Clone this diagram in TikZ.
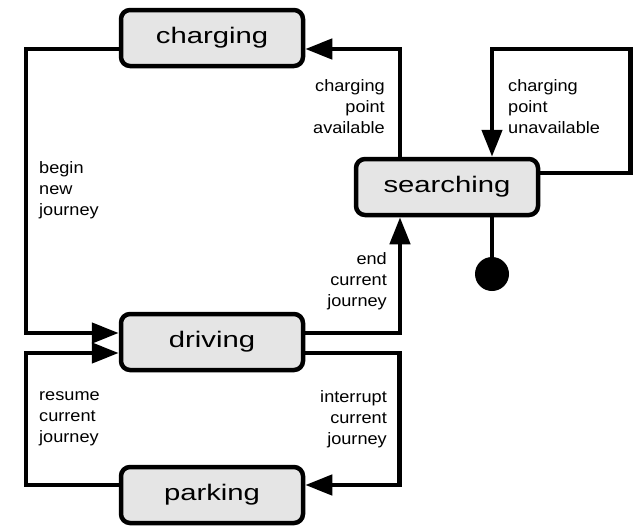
\documentclass[tikz,border=0pt]{standalone}
\usepackage{fontspec}
\setmainfont{Liberation Sans}
\newfontfamily\statefont[FakeStretch=1.3]{Liberation Sans}
\newfontfamily\eventfont[FakeStretch=1.1]{Liberation Sans}
\usetikzlibrary{arrows.meta, positioning}

\begin{document}
\begin{tikzpicture}[
  x=1pt, y=-1pt,
  state/.style = {
    draw, line width=4.5pt, rounded corners=9pt, fill=gray!20,
    minimum width=182pt, minimum height=56pt, inner sep=0pt,
    font=\statefont\fontsize{22.5}{26}\selectfont
  },
  trans/.style = {line width=4.5pt, -{Triangle[length=27pt,width=20pt]}},
  event/.style = {font=\eventfont\fontsize{16.5}{21}\selectfont, inner sep=0pt},
]
\useasboundingbox (0,0) rectangle (637,525);

% states
\node[state] (charging)  at (212,38)  {charging};
\node[state] (searching) at (447,187) {searching};
\node[state] (driving)   at (212,342) {driving};
\node[state] (parking)   at (212,495) {parking};
\node[circle, fill=black, minimum size=34pt, inner sep=0pt] (final) at (492,274) {};

% transitions
\draw[trans] ([yshift=-11pt]charging.west) -- ++(-93,0) |- ([yshift=9pt]driving.west);
\draw[trans] ([yshift=9pt]driving.east) -| ([xshift=-47pt]searching.south);
\draw[trans] ([xshift=-47pt]searching.north) |- ([yshift=-11pt]charging.east);
\draw[trans] ([yshift=14pt]searching.east) -| ++(90,-124) -| ([xshift=45pt]searching.north);
\draw[line width=4.5pt] ([xshift=45pt]searching.south) -- (final);
\draw[trans] ([yshift=-11pt]driving.east) -- ++(94,0) |- ([yshift=10pt]parking.east);
\draw[trans] ([yshift=10pt]parking.west) -- ++(-93,0) |- ([yshift=-11pt]driving.west);

% events
\node[event, align=right, anchor=east] (avail)   at (385,107) {charging\\point\\available};
\node[event, align=left,  anchor=west] (unavail) at (508,107) {charging\\point\\unavailable};
\node[event, align=left,  anchor=west] (begin)   at (39,190)  {begin\\new\\journey};
\node[event, align=right, anchor=east] (end)     at (387,281) {end\\current\\journey};
\node[event, align=left,  anchor=west] (resume)  at (39,419)  {resume\\current\\journey};
\node[event, align=right, anchor=east] (interrupt) at (387,419) {interrupt\\current\\journey};

\end{tikzpicture}
\end{document}
